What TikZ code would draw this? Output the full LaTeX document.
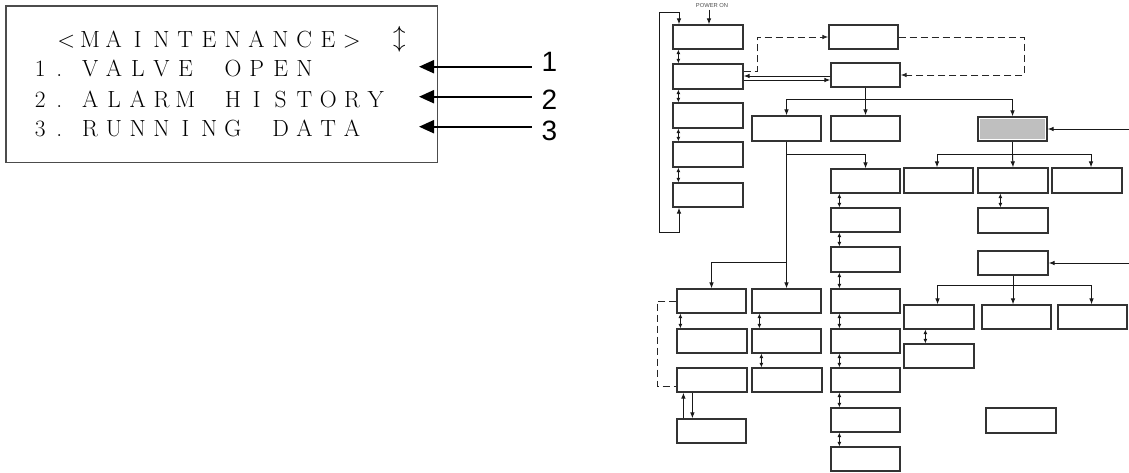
\documentclass[tikz,border=0pt]{standalone}
\usepackage{fontspec}
\newfontfamily\lib{Liberation Sans}
\usetikzlibrary{arrows.meta}
\newcommand\cellrow[1]{\cellrowi#1\relax}
\def\cellrowi#1{\ifx\relax#1\else\makebox[23.8pt]{#1}\expandafter\cellrowi\fi}
\newcommand\bx[5]{\node[box, minimum width={#4-#2}, minimum height={#5-#3}] (#1) at ({(#2+#4)/2},{(#3+#5)/2}) {};}
\newcommand\stk[3]{\draw[dbl] ([xshift=#3pt]#1.south west) -- ([xshift=#3pt]#2.north west);}
\begin{document}
\begin{tikzpicture}[x=1pt,y=-1pt,
  box/.style={draw=black!80, line width=1.2pt, inner sep=0pt, fill=white},
  arr/.style={-{Latex[length=6pt,width=4.6pt]}, line width=1pt, draw=black!90},
  plain/.style={line width=1pt, draw=black!90},
  dbl/.style={{Latex[length=4.5pt,width=4pt]}-{Latex[length=4.5pt,width=4pt]}, line width=1pt, draw=black!90},
  dsh/.style={line width=1pt, draw=black!85, dash pattern=on 7pt off 4pt},
  bigarr/.style={-{Triangle[length=15pt,width=13pt]}, line width=2pt},
  lcd/.style={inner sep=0pt, anchor=base west, font=\fontsize{23.4}{28}\selectfont},
  num/.style={inner sep=0pt, anchor=base west, font=\lib\fontsize{28}{32}\selectfont}]
\useasboundingbox (0,0) rectangle (1129,472);

% ---------- left panel ----------
\node[draw=black!70, line width=1.2pt, minimum width=431.5pt, minimum height=156.5pt, inner sep=0pt] (panel) at (221.75,84.25) {};
\node[lcd] (t0) at (54.1,47.3) {\cellrow{<MAINTENANCE>}};
\node[inner sep=0pt, font=\fontsize{24}{26}\selectfont] (t0a) at (399.3,39) {$\updownarrow$};
\node[lcd] (t1) at (30.5,76.7) {\makebox[19pt]{1}\makebox[19pt]{.}\hspace{9.6pt}\cellrow{VALVE~OPEN}};
\node[lcd] (t2) at (30.5,107) {\makebox[19pt]{2}\makebox[19pt]{.}\hspace{9.6pt}\cellrow{ALARM~HISTORY}};
\node[lcd] (t3) at (30.5,136.7) {\makebox[19pt]{3}\makebox[19pt]{.}\hspace{9.6pt}\cellrow{RUNNING~DATA}};
\node[num] (n1) at (541.5,71.7) {1};
\node[num] (n2) at (541.5,109) {2};
\node[num] (n3) at (541.5,140) {3};
\coordinate (p1) at (419,66.7);
\coordinate (p2) at (419,96.7);
\coordinate (p3) at (419,126.7);
\draw[bigarr, shorten <=10pt] (n1.west |- p1) -- (p1);
\draw[bigarr, shorten <=10pt] (n2.west |- p2) -- (p2);
\draw[bigarr, shorten <=10pt] (n3.west |- p3) -- (p3);

% ---------- right diagram: boxes ----------
\bx{b1}{673}{25}{743}{49}
\bx{b2}{673}{64}{743}{89}
\bx{b3}{673}{103}{743}{128}
\bx{b4}{673}{142}{743}{167}
\bx{b5}{673}{183}{743}{207}
\bx{A}{829}{25}{898}{49}
\bx{B}{831}{63}{900}{87}
\bx{C}{752}{116}{821}{141}
\bx{D}{831}{116}{900}{141}
\bx{E}{978}{117}{1047}{141}
\fill[gray!50] ([shift={(2.2pt,2.2pt)}]E.south west) rectangle ([shift={(-2.2pt,-2.2pt)}]E.north east);
\bx{F1}{831}{169}{900}{193}
\bx{F2}{831}{208}{900}{232}
\bx{F3}{831}{247}{900}{272}
\bx{F4}{831}{289}{900}{313}
\bx{F5}{831}{329}{900}{353}
\bx{F6}{831}{368}{900}{392}
\bx{F7}{831}{408}{900}{432}
\bx{F8}{831}{447}{900}{471}
\bx{G1}{677}{289}{746}{313}
\bx{G2}{677}{329}{747}{353}
\bx{G3}{677}{368}{747}{392}
\bx{G4}{677}{419}{746}{443}
\bx{H1}{752}{289}{821}{313}
\bx{H2}{752}{329}{821}{353}
\bx{H3}{752}{368}{822}{392}
\bx{I1}{904}{168}{973}{193}
\bx{I2}{978}{168}{1048}{193}
\bx{I3}{1052}{168}{1122}{193}
\bx{J}{978}{208}{1048}{233}
\bx{K}{978}{251}{1048}{275}
\bx{L1}{904}{305}{974}{329}
\bx{L2}{982}{305}{1051}{329}
\bx{L3}{1058}{305}{1127}{329}
\bx{M}{904}{344}{974}{368}
\bx{N}{986}{408}{1056}{433}

% ---------- POWER ON ----------
\node[inner sep=0pt, font=\lib\fontsize{5.8}{6}\selectfont, text=black!70] (pwr) at (712,5.6) {POWER ON};
\coordinate (pwa) at (709,9.5);
\draw[arr] (pwa) -- (pwa |- b1.north);

% ---------- left column ----------
\stk{b1}{b2}{6}
\stk{b2}{b3}{6}
\stk{b3}{b4}{6}
\stk{b4}{b5}{6}
\coordinate (lpA) at (679,12);
\coordinate (lpB) at (659,12);
\coordinate (lpC) at (659,232);
\coordinate (lpD) at (679,232);
\draw[arr, {Latex[length=6pt,width=4.6pt]}-{Latex[length=6pt,width=4.6pt]}] (b5.south -| lpD) -- (lpD) -- (lpC) -- (lpB) -- (lpA) -- (b1.north -| lpA);

% ---------- b2 / A / B ----------
\coordinate (d1) at (757,71);
\draw[dsh, -{Latex[length=6pt,width=4.6pt]}] (b2.east |- d1) -- (d1) |- (A.west);
\coordinate (d2) at (1024,37);
\draw[dsh, -{Latex[length=6pt,width=4.6pt]}] (A.east) -- (d2) |- (B.east);
\coordinate (y76) at (0,76);
\coordinate (y80) at (0,80);
\draw[arr] (B.west |- y76) -- (b2.east |- y76);
\draw[arr] (b2.east |- y80) -- (B.west |- y80);

% ---------- B tree ----------
\coordinate (tB) at (0,99);
\draw[plain] (B.south) -- (B.south |- tB);
\draw[plain] (C.north |- tB) -- (E.north |- tB);
\draw[arr] (C.north |- tB) -- (C.north);
\draw[arr] (D.north |- tB) -- (D.north);
\draw[arr] (E.north |- tB) -- (E.north);
\coordinate (eIn) at (1129,129);
\draw[arr] (eIn) -- (E.east |- eIn);

% ---------- C tree ----------
\coordinate (cA) at (0,154);
\coordinate (cB) at (0,262);
\draw[arr] (C.south |- cA) -| (F1.north);
\draw[plain] (C.south) -- (C.south |- cB);
\draw[arr] (C.south |- cB) -| (G1.north);
\draw[arr] (C.south |- cB) -- (H1.north);
\stk{F1}{F2}{9}
\stk{F2}{F3}{9}
\stk{F3}{F4}{9}
\stk{F4}{F5}{9}
\stk{F5}{F6}{9}
\stk{F6}{F7}{9}
\stk{F7}{F8}{9}
\stk{G1}{G2}{4}
\stk{H1}{H2}{8}
\stk{H2}{H3}{10}
\coordinate (gb1) at (657,301);
\coordinate (gb2) at (657,386);
\draw[dsh] (G1.west) -- (gb1) -- (gb2) -- (G3.west |- gb2);
\draw[arr] ([xshift=7pt]G4.north west) -- ([xshift=7pt]G3.south west);
\draw[arr] ([xshift=16pt]G3.south west) -- ([xshift=16pt]G4.north west);

% ---------- E tree ----------
\coordinate (eA) at (0,154);
\draw[plain] (E.south) -- (E.south |- eA);
\draw[arr] (E.south |- eA) -| ([xshift=-1.5pt]I1.north);
\draw[arr] (E.south |- eA) -- (I2.north);
\draw[arr] (E.south |- eA) -| ([xshift=4pt]I3.north);
\stk{I2}{J}{23}

% ---------- K tree ----------
\coordinate (kIn) at (1129,263);
\draw[arr] (kIn) -- (K.east |- kIn);
\coordinate (kA) at (0,285);
\draw[plain] (K.south) -- (K.south |- kA);
\draw[arr] (K.south |- kA) -| ([xshift=-1.5pt]L1.north);
\draw[arr] (K.south |- kA) -- (L2.north -| K.south);
\draw[arr] (K.south |- kA) -| ([xshift=-1pt]L3.north);
\stk{L1}{M}{22}
\end{tikzpicture}
\end{document}
